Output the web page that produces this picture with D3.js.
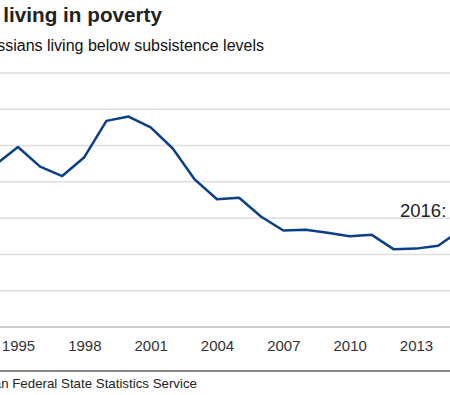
<!DOCTYPE html>
<html>
<head>
<meta charset="utf-8">
<script src="https://cdn.jsdelivr.net/npm/d3@7"></script>
<style>
  body { margin: 0; background: #fff; overflow: hidden; }
  text { font-family: "Liberation Sans", Arial, sans-serif; }
</style>
</head>
<body>
<svg id="chart" width="450" height="395"></svg>
<script>
// share of Russians below subsistence level, %
const years = [1992, 1993, 1994, 1995, 1996, 1997, 1998, 1999, 2000, 2001, 2002, 2003, 2004,
               2005, 2006, 2007, 2008, 2009, 2010, 2011, 2012, 2013, 2014, 2015, 2016];
const poverty = [33.5, 31.3, 22.4, 24.8, 22.1, 20.8, 23.4, 28.4, 29.0, 27.5, 24.6, 20.3, 17.6,
                 17.8, 15.2, 13.3, 13.4, 13.0, 12.5, 12.7, 10.7, 10.8, 11.2, 13.3, 13.5];
const xTicks = [1992, 1995, 1998, 2001, 2004, 2007, 2010, 2013, 2016];
const yTicks = [0, 5, 10, 15, 20, 25, 30, 35];

const svg = d3.select("#chart");

// the view is a crop of a wider chart, so the plot starts left of the frame
const x = d3.scaleLinear().domain([1995, 2013]).range([18, 416]);
const y = d3.scaleLinear().domain([0, 35]).range([327, 73]);

// gridlines
svg.append("g")
    .selectAll("line")
    .data(yTicks.filter(d => d > 0))
    .enter().append("line")
    .attr("x1", 0).attr("x2", 450)
    .attr("y1", d => y(d)).attr("y2", d => y(d))
    .style("stroke", "#dedede")
    .style("stroke-width", 1.5);

// x axis
const xAxis = svg.append("g")
    .attr("transform", `translate(0, ${y(0)})`)
    .call(d3.axisBottom(x).tickValues(xTicks).tickFormat(d3.format("d")).tickSize(0).tickPadding(13));
xAxis.select(".domain").remove();
xAxis.append("line")
    .attr("x1", 0).attr("x2", 450)
    .style("stroke", "#bbbbbb")
    .style("stroke-width", 1.5);
xAxis.selectAll("text")
    .style("font-family", '"Liberation Sans", Arial, sans-serif')
    .style("font-size", "15px")
    .style("fill", "#333");

// line
const line = d3.line()
    .x((d, i) => x(years[i]))
    .y(d => y(d));

svg.append("path")
    .datum(poverty)
    .attr("d", line)
    .style("fill", "none")
    .style("stroke", "#0b3f86")
    .style("stroke-width", 2.5)
    .style("stroke-linejoin", "round");

// annotation for latest value
svg.append("text")
    .attr("x", 400).attr("y", 217)
    .style("font-size", "18.5px")
    .style("fill", "#222")
    .text(`${years[years.length - 1]}: ${poverty[poverty.length - 1]}%`);

// titles
svg.append("text")
    .attr("x", 162).attr("y", 22)
    .attr("text-anchor", "end")
    .style("font-size", "20.7px")
    .style("font-weight", "bold")
    .style("fill", "#222")
    .text("Russians living in poverty");

svg.append("text")
    .attr("x", 264).attr("y", 51)
    .attr("text-anchor", "end")
    .style("font-size", "16px")
    .style("fill", "#111")
    .text("% of Russians living below subsistence levels");

// footer
svg.append("line")
    .attr("x1", 0).attr("x2", 450)
    .attr("y1", 371).attr("y2", 371)
    .style("stroke", "#111")
    .style("stroke-width", 1);

svg.append("text")
    .attr("x", 197).attr("y", 388)
    .attr("text-anchor", "end")
    .style("font-size", "13.3px")
    .style("fill", "#222")
    .text("Source: Russian Federal State Statistics Service");
</script>
</body>
</html>
